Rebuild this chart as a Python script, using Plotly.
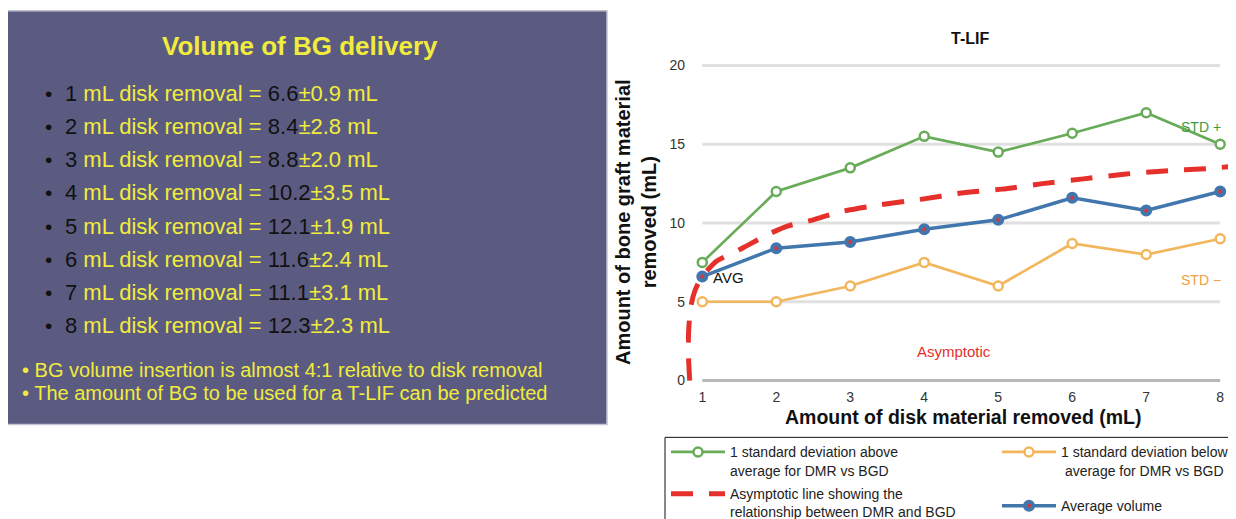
import plotly.graph_objects as go

# ---------------- data ----------------
disk_ml = [1, 2, 3, 4, 5, 6, 7, 8]
avg_volume = [6.6, 8.4, 8.8, 9.6, 10.2, 11.6, 10.8, 12.0]
std_plus = [7.5, 12.0, 13.5, 15.5, 14.5, 15.7, 17.0, 15.0]
std_minus = [5.0, 5.0, 6.0, 7.5, 6.0, 8.7, 8.0, 9.0]
asym_x = [0.83, 0.81, 0.82, 0.85, 0.90, 0.97, 1.05, 1.2, 1.5, 1.9, 2.15, 2.5, 2.85,
          3.4, 3.95, 4.5, 5.05, 5.6, 6.15, 6.7, 7.25, 7.8, 8.2]
asym_y = [0.0, 2.0, 3.5, 4.8, 5.7, 6.4, 6.9, 7.6, 8.3, 9.3, 9.8, 10.2, 10.7,
          11.15, 11.5, 11.9, 12.15, 12.5, 12.8, 13.1, 13.3, 13.45, 13.6]
y_ticks = [0, 5, 10, 15, 20]

list_mean = [6.6, 8.4, 8.8, 10.2, 12.1, 11.6, 11.1, 12.3]
list_sd = [0.9, 2.8, 2.0, 3.5, 1.9, 2.4, 3.1, 2.3]
panel_title = "Volume of BG delivery"
panel_notes = ["BG volume insertion is almost 4:1 relative to disk removal",
               "The amount of BG to be used for a T-LIF can be predicted"]

chart_title = "T-LIF"
x_title = "Amount of disk material removed (mL)"
y_title = "Amount of bone graft material<br>removed (mL)"
legend_names = ["1 standard deviation above<br>average for DMR vs BGD",
                "1 standard deviation below<br>&nbsp;average for DMR vs BGD",
                "Asymptotic line showing the<br>relationship between DMR and BGD",
                "Average volume"]

# ---------------- geometry (page pixels; the page body has an 8px margin) ----------------
OFF = 8
W, H = 1236 - OFF, 519 - OFF
PLOT_L, PLOT_R, PLOT_T, PLOT_B = 686, 1235, 55.5, 390.5   # page coordinates
L = PLOT_L - OFF
T = PLOT_T - OFF
R = W - (PLOT_R - OFF)
B = H - (PLOT_B - OFF)
PW, PH = W - L - R, H - T - B


def px(xp):
    return (xp - OFF - L) / PW


def py(yp):
    return (T + PH - (yp - OFF)) / PH


FONT = "Arial, Liberation Sans, sans-serif"
GREEN, ORANGE, BLUE, RED = "#68ac5a", "#f2b65c", "#4277ad", "#e5302b"
YELLOW = "#f1ec3c"

fig = go.Figure()

fig.add_trace(go.Scatter(
    x=disk_ml, y=std_plus, mode="lines+markers", name=legend_names[0],
    line=dict(color=GREEN, width=2.7),
    marker=dict(symbol="circle", size=9, color="white", line=dict(color=GREEN, width=2.5)),
    legend="legend"))
fig.add_trace(go.Scatter(
    x=disk_ml, y=std_minus, mode="lines+markers", name=legend_names[1],
    line=dict(color=ORANGE, width=2.7),
    marker=dict(symbol="circle", size=9, color="white", line=dict(color=ORANGE, width=2.5)),
    legend="legend2"))
fig.add_trace(go.Scatter(
    x=disk_ml, y=avg_volume, mode="lines+markers", name=legend_names[3],
    line=dict(color=BLUE, width=3.5),
    marker=dict(symbol="circle", size=8, color="#d8383a", line=dict(color=BLUE, width=4)),
    legend="legend4"))
fig.add_trace(go.Scatter(
    x=asym_x, y=asym_y, mode="lines", name=legend_names[2],
    line=dict(color=RED, width=5, dash="22px,16px", shape="spline", smoothing=0.6),
    legend="legend3"))

shapes = []
for v in y_ticks:
    shapes.append(dict(type="line", xref="x", yref="y", x0=disk_ml[0], x1=disk_ml[-1], y0=v, y1=v,
                       line=dict(color="#b8b8b8" if v == 0 else "#e0e0e0", width=3), layer="below"))
shapes.append(dict(type="rect", xref="paper", yref="paper", x0=px(7), x1=px(607), y0=py(10), y1=py(425),
                   fillcolor="#5b5b82", line=dict(color="#c4c4d0", width=1.5), layer="below"))
shapes.append(dict(type="rect", xref="paper", yref="paper", x0=px(665), x1=px(1245), y0=py(438), y1=py(530),
                   fillcolor="rgba(0,0,0,0)", line=dict(color="#111", width=1)))

ann = []
ann.append(dict(text=f"<b>{chart_title}</b>", x=px(970), y=py(38), font=dict(size=16, color="#111")))
ann.append(dict(text=f"<b>{x_title}</b>", x=px(963), y=py(418), font=dict(size=19.5, color="#111")))
ann.append(dict(text=f"<b>{y_title}</b>", x=px(636), y=py(222), textangle=-90,
                font=dict(size=20, color="#111")))
ann.append(dict(text="STD +", x=px(1201), y=py(127), font=dict(size=14, color="#3f9a3f")))
ann.append(dict(text="STD \u2212", x=px(1201), y=py(280), font=dict(size=14, color="#f0a040")))
ann.append(dict(text="AVG", x=px(711), y=py(278), xanchor="left", font=dict(size=15, color="#111")))
ann.append(dict(text="Asymptotic", x=px(954), y=py(352), font=dict(size=15, color=RED)))

ann.append(dict(text=f"<b>{panel_title}</b>", x=px(300), y=py(45), font=dict(size=26, color=YELLOW)))
for i, (n, m, s) in enumerate(zip(disk_ml, list_mean, list_sd)):
    yy = 93.3 + i * 33.2
    ann.append(dict(text="\u2022", x=px(49), y=py(yy), font=dict(size=21, color="#111")))
    ann.append(dict(text=f"<span style='color:#111'>{n}</span> mL disk removal = "
                         f"<span style='color:#111'>{m}</span>\u00b1{s} mL",
                    x=px(63), y=py(yy), xanchor="left", font=dict(size=22, color=YELLOW)))
for i, note in enumerate(panel_notes):
    ann.append(dict(text=f"\u2022 {note}", x=px(20), y=py(370 + i * 24), xanchor="left",
                    font=dict(size=20, color=YELLOW)))

for a in ann:
    a.setdefault("xref", "paper")
    a.setdefault("yref", "paper")
    a.setdefault("showarrow", False)
    a.setdefault("xanchor", "center")
    a.setdefault("yanchor", "middle")

leg_common = dict(xanchor="left", yanchor="top", bgcolor="rgba(0,0,0,0)", borderwidth=0,
                  font=dict(size=14, family=FONT, color="#222"), itemwidth=54, valign="top",
                  visible=True)

fig.update_layout(
    width=W, height=H,
    margin=dict(l=L, r=R, t=T, b=B, autoexpand=False),
    paper_bgcolor="white", plot_bgcolor="white",
    font=dict(family=FONT, color="#222"),
    showlegend=True,
    xaxis=dict(range=[0.78, 8.2], tickvals=disk_ml, showgrid=False, zeroline=False, showline=False,
               ticks="", tickfont=dict(size=14, color="#333"), ticklabelstandoff=-3),
    yaxis=dict(range=[-0.6, 20.6], tickvals=y_ticks, showgrid=False, zeroline=False, showline=False,
               ticks="", tickfont=dict(size=14, color="#333")),
    shapes=shapes, annotations=ann,
    legend=dict(x=px(666), y=py(437), **leg_common),
    legend2=dict(x=px(997), y=py(437), **leg_common),
    legend3=dict(x=px(666), y=py(479), **leg_common),
    legend4=dict(x=px(997), y=py(491), **leg_common),
)

fig.write_html("out.html")
